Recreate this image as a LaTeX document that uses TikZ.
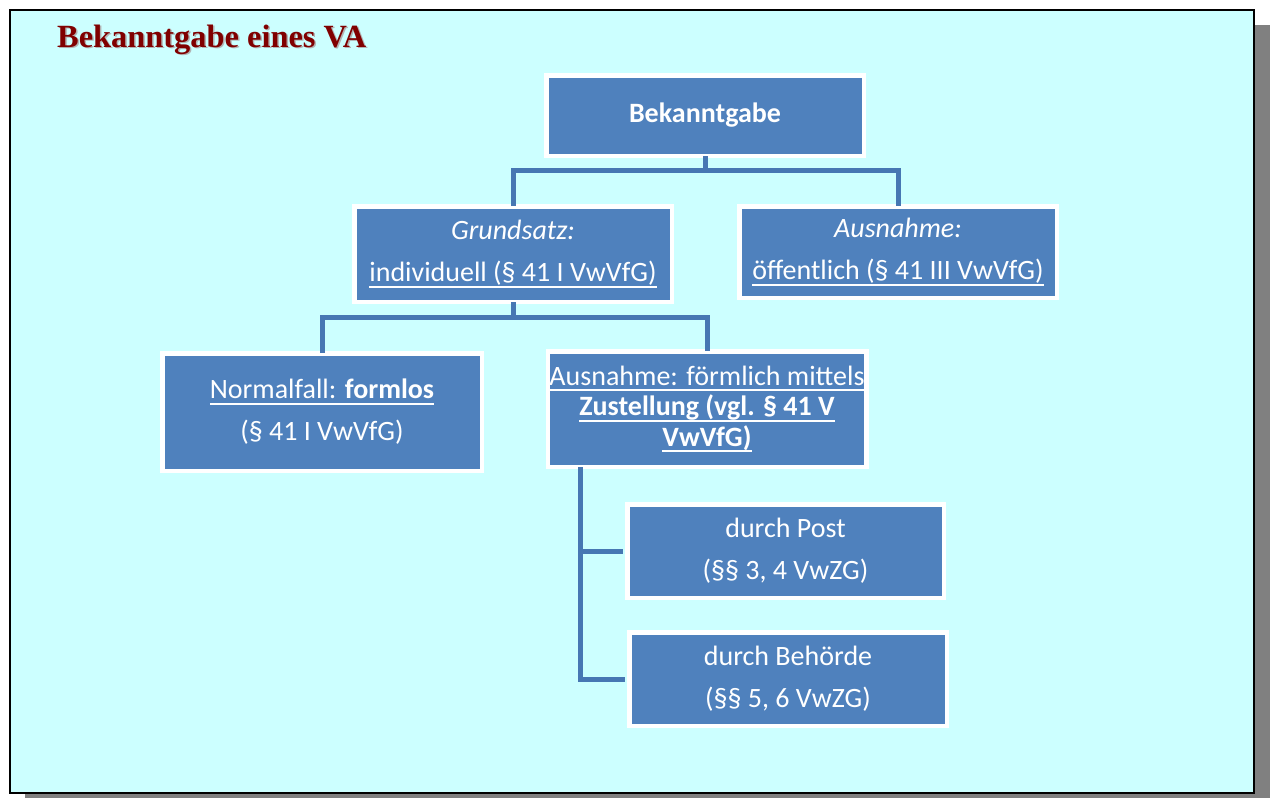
\documentclass[tikz,border=0pt]{standalone}
\usepackage{fontspec}
\setmainfont{Carlito}
\newfontfamily\titlefont{Liberation Serif}
\definecolor{boxblue}{HTML}{4F81BD}
\definecolor{connblue}{HTML}{4677B3}
\definecolor{bgcyan}{HTML}{CCFFFF}
\definecolor{titlered}{HTML}{800000}
\definecolor{shadowgray}{HTML}{808080}
\newcommand{\myul}[1]{\leavevmode\setbox0\hbox{#1}\rlap{\rule[-6pt]{\wd0}{1.8pt}}\box0}
\begin{document}
\begin{tikzpicture}[x=1pt,y=-1pt,
  blbox/.style={rectangle, draw=white, line width=4.5pt, fill=boxblue, text=white,
    inner sep=0pt, align=center, font=\fontsize{28}{42}\selectfont},
  conn/.style={draw=connblue, line width=5pt, line join=miter}]
\useasboundingbox (0,0) rectangle (1272,798);
\fill[white] (0,0) rectangle (1272,798);
\begin{scope}
\clip (0,0) rectangle (1272,798);
\fill[shadowgray] (25,25) rectangle (1270,812);
\end{scope}
\draw[fill=bgcyan, draw=black, line width=2.5pt] (10,10) rectangle (1254,793);
% title
\node[anchor=base west, inner sep=0pt, text=shadowgray!60, font=\titlefont\bfseries\fontsize{32.4}{38}\selectfont] (titleshadow) at (58.5,48.5) {Bekanntgabe eines VA};
\node[anchor=base west, inner sep=0pt, text=titlered, font=\titlefont\bfseries\fontsize{32.4}{38}\selectfont] (title) at (57,47) {Bekanntgabe eines VA};
% boxes
\node[blbox, minimum width=317.5pt, minimum height=80.5pt] (b1) at (705,115.5) {\textbf{Bekanntgabe}};
\node[blbox, minimum width=317.5pt, minimum height=95.5pt] (b2) at (513,254) {\textit{Grundsatz:}\\\myul{individuell (§ 41 I VwVfG)}};
\node[blbox, minimum width=317.5pt, minimum height=91.5pt] (b3) at (898,252) {\textit{Ausnahme:}\\\myul{öffentlich (§ 41 III VwVfG)}};
\node[blbox, minimum width=319.5pt, minimum height=117.5pt] (b4) at (322,412) {\myul{Normalfall: \textbf{formlos}}\\(§ 41 I VwVfG)};
\node[blbox, minimum width=318.5pt, minimum height=115.5pt, font=\fontsize{28}{30.5}\selectfont] (b5) at (707,409) {\myul{Ausnahme: förmlich mittels}\\\myul{\textbf{Zustellung (vgl. § 41 V}}\\\myul{\textbf{VwVfG)}}};
\node[blbox, minimum width=316.5pt, minimum height=93.5pt] (b6) at (785.5,551) {durch Post\\(§§ 3, 4 VwZG)};
\node[blbox, minimum width=317.5pt, minimum height=93.5pt] (b7) at (788,679) {durch Behörde\\(§§ 5, 6 VwZG)};
% connectors
\draw[conn] ([yshift=2pt]b1.south) -- ++(0,14) -| ([yshift=-2pt]b2.north);
\draw[conn] ([yshift=2pt]b1.south) -- ++(0,14) -| ([yshift=-2pt]b3.north);
\draw[conn] ([yshift=2pt]b2.south) -- ++(0,15) -| ([yshift=-2pt]b4.north);
\draw[conn] ([yshift=2pt]b2.south) -- ++(0,15) -| ([yshift=-2pt]b5.north);
\draw[conn] ([xshift=-127pt,yshift=2pt]b5.south) |- ([xshift=-2pt]b6.west);
\draw[conn] ([xshift=-127pt,yshift=2pt]b5.south) |- ([xshift=-2pt]b7.west);
\end{tikzpicture}
\end{document}
